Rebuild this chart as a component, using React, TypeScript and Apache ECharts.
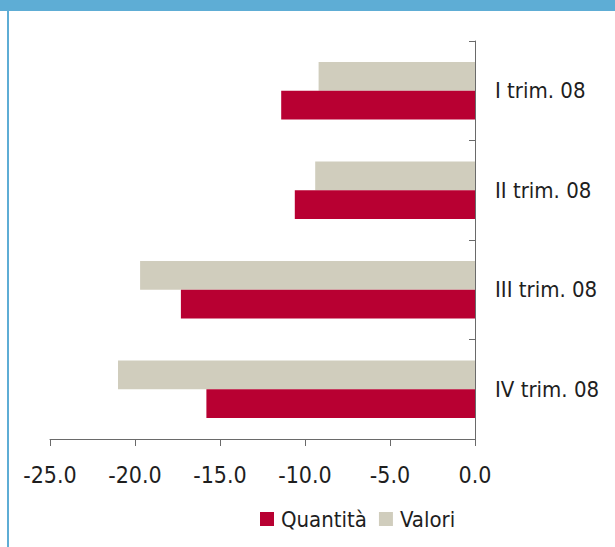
import React, { useEffect, useRef } from "react";
import * as echarts from "echarts";

const categories = ["I trim. 08", "II trim. 08", "III trim. 08", "IV trim. 08"];
const quantita = [-11.4, -10.6, -17.3, -15.8];
const valori = [-9.2, -9.4, -19.7, -21.0];
const seriesNames = ["Quantità", "Valori"];

const FONT = "'DejaVu Sans Condensed', 'Liberation Sans Narrow', 'Roboto', sans-serif";
const RED = "#b80032";
const BEIGE = "#d0cdbd";
const FRAME = "#5eadd5";
const AXIS = "#6a6a6a";
const TEXT = "#1e1e1e";

export default function App() {
  const ref = useRef<HTMLDivElement>(null);

  useEffect(() => {
    if (!ref.current) return;
    const chart = echarts.init(ref.current, undefined, { renderer: "svg" });
    chart.setOption({
      animation: false,
      backgroundColor: "#ffffff",
      textStyle: { fontFamily: FONT },
      graphic: [
        { type: "rect", left: 0, top: 0, shape: { width: 615, height: 11 }, style: { fill: FRAME } },
        { type: "rect", left: 7, top: 11, shape: { width: 2, height: 536 }, style: { fill: FRAME } },
      ],
      grid: { left: 50, right: 140, top: 41, bottom: 108, containLabel: false },
      legend: {
        data: seriesNames,
        left: 255,
        top: 503,
        itemWidth: 14,
        itemHeight: 14,
        itemGap: 12,
        icon: "rect",
        textStyle: { fontFamily: FONT, fontSize: 22, color: TEXT, padding: [0, 0, 0, 2] },
      },
      xAxis: {
        type: "value",
        min: -25,
        max: 0,
        interval: 5,
        splitLine: { show: false },
        axisLine: { show: true, lineStyle: { color: AXIS, width: 1 } },
        axisTick: { show: true, length: 7, lineStyle: { color: AXIS } },
        axisLabel: {
          margin: 24,
          fontFamily: FONT,
          fontSize: 23,
          color: TEXT,
          formatter: (v: number) => v.toFixed(1),
        },
      },
      yAxis: {
        type: "category",
        data: categories,
        inverse: true,
        position: "right",
        axisLine: { show: true, onZero: false, lineStyle: { color: AXIS, width: 1 } },
        axisTick: { show: true, inside: true, length: 6, lineStyle: { color: AXIS } },
        axisLabel: { margin: 20, fontFamily: FONT, fontSize: 22, color: TEXT },
      },
      series: [
        {
          name: seriesNames[1],
          type: "bar",
          data: valori,
          itemStyle: { color: BEIGE },
          barGap: "0%",
          barCategoryGap: "42%",
        },
        {
          name: seriesNames[0],
          type: "bar",
          data: quantita,
          itemStyle: { color: RED },
          barGap: "0%",
          barCategoryGap: "42%",
        },
      ],
    });
    return () => chart.dispose();
  }, []);

  return (
    <div
      ref={ref}
      style={{ position: "absolute", left: 0, top: 0, width: 615, height: 547 }}
    />
  );
}
